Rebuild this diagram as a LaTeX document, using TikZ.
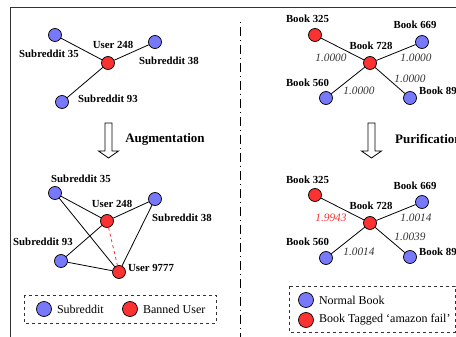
\documentclass[tikz,border=0pt]{standalone}
\usepackage{fontspec}
\setmainfont{Liberation Serif}
\usepackage{xcolor}
\usetikzlibrary{positioning}

\definecolor{nodeblue}{RGB}{120,120,250}
\definecolor{nodered}{RGB}{250,50,50}

\tikzset{
  bluenode/.style={circle, draw=black, line width=0.7pt, fill=nodeblue, inner sep=0pt, minimum size=13pt},
  rednode/.style={circle, draw=black, line width=0.7pt, fill=nodered, inner sep=0pt, minimum size=13pt},
  lab/.style={font=\fontsize{10.8}{12}\selectfont\bfseries, inner sep=0pt},
  wt/.style={font=\fontsize{11.3}{12}\selectfont\itshape, inner sep=0pt, text=black!80},
  edge/.style={line width=0.8pt},
  legtext/.style={font=\fontsize{12}{14}\selectfont, anchor=west, inner sep=0pt},
  stagetext/.style={font=\fontsize{13}{15}\selectfont\bfseries, inner sep=0pt},
}

\begin{document}
\begin{tikzpicture}[x=1pt, y=-1pt]
\useasboundingbox (0,0) rectangle (456,337);
\clip (0,0) rectangle (456,337);

% Frame and separator
\draw[line width=0.8pt, black!80] (10,337) -- (10,7) -- (470,7);
\draw[line width=0.7pt, dash pattern=on 1pt off 4pt on 9pt off 4pt] (240,22) -- (240,337);

% Reddit graph (before)
\node[bluenode] (s35a) at (55,35) {};
\node[rednode] (u248a) at (108,63) {};
\node[bluenode] (s38a) at (155,42) {};
\node[bluenode] (s93a) at (62,102) {};
\draw[edge] (s35a) -- (u248a);
\draw[edge] (u248a) -- (s38a);
\draw[edge] (u248a) -- (s93a);
\node[lab] (s35al) at (49,54) {Subreddit 35};
\node[lab] (u248al) at (113,45) {User 248};
\node[lab] (s38al) at (169,61) {Subreddit 38};
\node[lab] (s93al) at (108,99) {Subreddit 93};

% Augmentation arrow
\draw[line width=0.8pt] (105,123) -- (112,123) -- (112,151) -- (118.5,151) -- (108.5,158) -- (98.5,151) -- (105,151) -- cycle;
\node[stagetext] (aug) at (165,139) {Augmentation};

% Reddit graph (after)
\node[bluenode] (s35b) at (55,193) {};
\node[rednode] (u248b) at (107,221) {};
\node[bluenode] (s38b) at (155,199) {};
\node[bluenode] (s93b) at (61,261) {};
\node[rednode] (u9777) at (119,272) {};
\draw[edge] (s35b) -- (u248b);
\draw[edge] (s35b) -- (u9777);
\draw[edge] (u248b) -- (s38b);
\draw[edge] (s38b) -- (u9777);
\draw[edge] (u248b) -- (s93b);
\draw[edge] (s93b) -- (u9777);
\draw[edge, dashed, nodered] (u248b) -- (u9777);
\node[lab] (s35bl) at (81,179) {Subreddit 35};
\node[lab] (u248bl) at (112,204) {User 248};
\node[lab] (s38bl) at (182,218) {Subreddit 38};
\node[lab] (s93bl) at (43,242) {Subreddit 93};
\node[lab] (u9777l) at (151,268) {User 9777};

% Legend (left)
\draw[line width=0.7pt, dashed, black!80] (24,295) rectangle (216,323);
\node[bluenode, minimum size=15pt] (legsub) at (44,309) {};
\node[legtext, right=5pt of legsub] (legsubt) {Subreddit};
\node[rednode, minimum size=15pt] (legban) at (130,309) {};
\node[legtext, right=5pt of legban] (legbant) {Banned User};

% Book graph (before)
\node[rednode] (b325a) at (315,35) {};
\node[rednode] (b728a) at (370,63) {};
\node[bluenode] (b669a) at (422,42) {};
\node[bluenode] (b560a) at (326,98) {};
\node[bluenode] (b89a) at (410,98) {};
\draw[edge] (b325a) -- (b728a);
\draw[edge] (b728a) -- (b669a);
\draw[edge] (b728a) -- (b560a);
\draw[edge] (b728a) -- (b89a);
\node[lab] (b325al) at (307.5,19) {Book 325};
\node[lab] (b728al) at (371,46) {Book 728};
\node[lab] (b669al) at (415,25) {Book 669};
\node[lab] (b560al) at (307.5,83) {Book 560};
\node[lab, anchor=west] (b89al) at (419,91) {Book 89};
\node[wt] (w325a) at (331,58) {1.0000};
\node[wt] (w669a) at (416,58) {1.0000};
\node[wt] (w560a) at (359,91) {1.0000};
\node[wt] (w89a) at (410,79) {1.0000};

% Purification arrow
\draw[line width=0.8pt] (368,123) -- (375,123) -- (375,151) -- (381.5,151) -- (371.5,158) -- (361.5,151) -- (368,151) -- cycle;
\node[stagetext, anchor=west] (pur) at (395,139) {Purification};

% Book graph (after)
\node[rednode] (b325b) at (315,195) {};
\node[rednode] (b728b) at (370,223) {};
\node[bluenode] (b669b) at (422,202) {};
\node[bluenode] (b560b) at (326,258) {};
\node[bluenode] (b89b) at (410,257) {};
\draw[edge] (b325b) -- (b728b);
\draw[edge] (b728b) -- (b669b);
\draw[edge] (b728b) -- (b560b);
\draw[edge] (b728b) -- (b89b);
\node[lab] (b325bl) at (307.5,180) {Book 325};
\node[lab] (b728bl) at (371,206) {Book 728};
\node[lab] (b669bl) at (415,186) {Book 669};
\node[lab] (b560bl) at (307.5,242) {Book 560};
\node[lab, anchor=west] (b89bl) at (419,252) {Book 89};
\node[wt, text=nodered] (w325b) at (331,218) {1.9943};
\node[wt] (w669b) at (416,218) {1.0014};
\node[wt] (w560b) at (359,252) {1.0014};
\node[wt] (w89b) at (410,237) {1.0039};

% Legend (right)
\draw[line width=0.7pt, dashed, black!80] (289,286) rectangle (455,332);
\node[bluenode, minimum size=15pt] (legnorm) at (306,300) {};
\node[legtext, right=5pt of legnorm] (legnormt) {Normal Book};
\node[rednode, minimum size=15pt] (legtag) at (306,320) {};
\node[legtext, right=5pt of legtag] (legtagt) {Book Tagged `amazon fail'};

\end{tikzpicture}
\end{document}
